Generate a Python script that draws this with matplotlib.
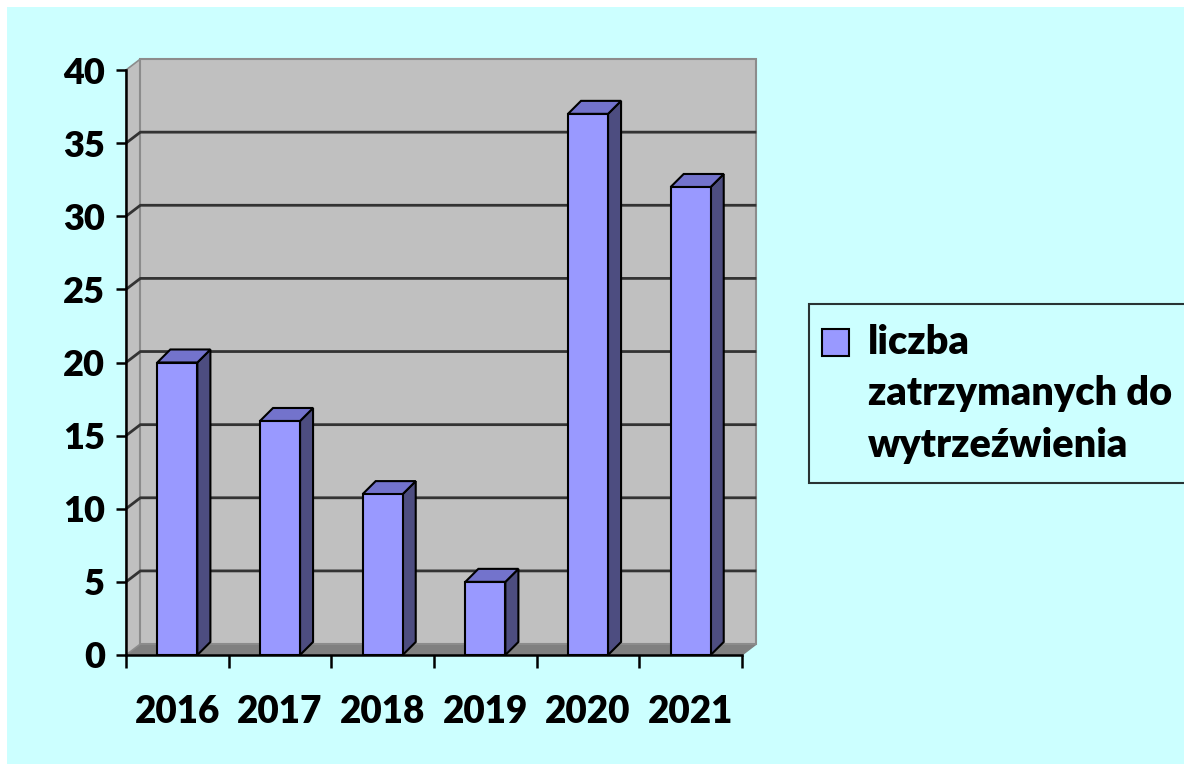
import matplotlib
matplotlib.use("Agg")
import matplotlib.pyplot as plt
from matplotlib.patches import Polygon, Rectangle, Patch
from matplotlib.legend_handler import HandlerPatch

# datos
lata = ['2016', '2017', '2018', '2019', '2020', '2021']
liczba = [20, 16, 11, 5, 37, 32]
etykieta = 'liczba\nzatrzymanych do\nwytrzeźwienia'

plt.rcParams['font.family'] = ['Lato', 'DejaVu Sans']
plt.rcParams['font.weight'] = 'heavy'

W, H = 1184, 764
fig = plt.figure(figsize=(W / 100, H / 100), dpi=100, facecolor='white')
# fondo cyan (margen blanco arriba e izquierda)
fig.patches.append(Rectangle((7 / W, 0), 1, 1 - 7 / H, transform=fig.transFigure,
                             facecolor='#CCFFFF', edgecolor='none', zorder=-10))

ax = fig.add_axes([126 / W, (H - 655) / H, 616 / W, 585 / H])
ax.set_facecolor('none')
ax.set_xlim(-0.5, 5.5)
ax.set_ylim(0, 40)

# profundidad 3D (unidades de datos)
dxw, dyw = 0.14, 0.75   # paredes
dxb, dyb = 0.127, 0.89  # barras
x0, x1 = -0.5, 5.5
ymax = 40

# suelo
ax.add_patch(Polygon([(x0, 0), (x1, 0), (x1 + dxw, dyw), (x0 + dxw, dyw)],
                     facecolor='#808080', edgecolor='#808080', lw=1, zorder=0.5, clip_on=False))
# pared lateral
ax.add_patch(Polygon([(x0, 0), (x0, ymax), (x0 + dxw, ymax + dyw), (x0 + dxw, dyw)],
                     facecolor='#C0C0C0', edgecolor='#8C8C8C', lw=1.2, zorder=0.5, clip_on=False))
# pared del fondo
ax.add_patch(Polygon([(x0 + dxw, dyw), (x1 + dxw, dyw), (x1 + dxw, ymax + dyw), (x0 + dxw, ymax + dyw)],
                     facecolor='#C0C0C0', edgecolor='#8C8C8C', lw=1.5, zorder=0.5, clip_on=False))

# lineas de cuadricula
for v in range(5, 40, 5):
    ax.plot([x0, x0 + dxw, x1 + dxw], [v, v + dyw, v + dyw], color='#333333', lw=2,
            zorder=0.6, clip_on=False, solid_capstyle='butt')

# barras
ancho = 0.39
barras = ax.bar(range(len(lata)), liczba, width=ancho, color='#9999FF',
                edgecolor='black', lw=1.5, zorder=3)
for b, v in zip(barras, liczba):
    xl = b.get_x()
    xr = xl + b.get_width()
    ax.add_patch(Polygon([(xr, 0), (xr + dxb, dyb), (xr + dxb, v + dyb), (xr, v)],
                         facecolor='#4D4D80', edgecolor='black', lw=1.5, zorder=2.9, clip_on=False))
    ax.add_patch(Polygon([(xl, v), (xr, v), (xr + dxb, v + dyb), (xl + dxb, v + dyb)],
                         facecolor='#7373CC', edgecolor='black', lw=1.5, zorder=2.9, clip_on=False))

# ejes
for s in ['top', 'right']:
    ax.spines[s].set_visible(False)
for s in ['left', 'bottom']:
    ax.spines[s].set_color('black')
    ax.spines[s].set_linewidth(1.8)
    ax.spines[s].set_zorder(4)

ax.set_yticks(range(0, 41, 5))
ax.tick_params(axis='y', direction='out', length=7, width=1.8, pad=8, labelsize=26)
ax.set_xticks(range(len(lata)))
ax.set_xticklabels(lata)
ax.set_xticks([i - 0.5 for i in range(len(lata) + 1)], minor=True)
ax.tick_params(axis='x', which='major', length=0, pad=29, labelsize=26.5)
ax.tick_params(axis='x', which='minor', direction='out', length=9, width=1.8)


def cuadrado(legend, orig_handle, xdescent, ydescent, width, height, fontsize):
    s = 27 * 72 / 100
    return Rectangle((-xdescent - 5, -ydescent + height - s * 1.05 + 10.5), s, s)


leg = fig.legend(handles=[Patch(facecolor='#9999FF', edgecolor='black', lw=1.5, label=etykieta)],
                 loc='upper left', bbox_to_anchor=(809 / W, 1 - 304 / H), borderaxespad=0,
                 fancybox=False, frameon=True, fontsize=28.5, handlelength=0.7, handleheight=4.0,
                 handletextpad=0.3, borderpad=0.5,
                 handler_map={Patch: HandlerPatch(patch_func=cuadrado)})
leg.get_frame().set_edgecolor('black')
leg.get_frame().set_linewidth(1.5)
leg.get_frame().set_facecolor('#CCFFFF')
leg.get_texts()[0].set_linespacing(1.48)

fig.savefig('out.png', dpi=100, facecolor=fig.get_facecolor())
